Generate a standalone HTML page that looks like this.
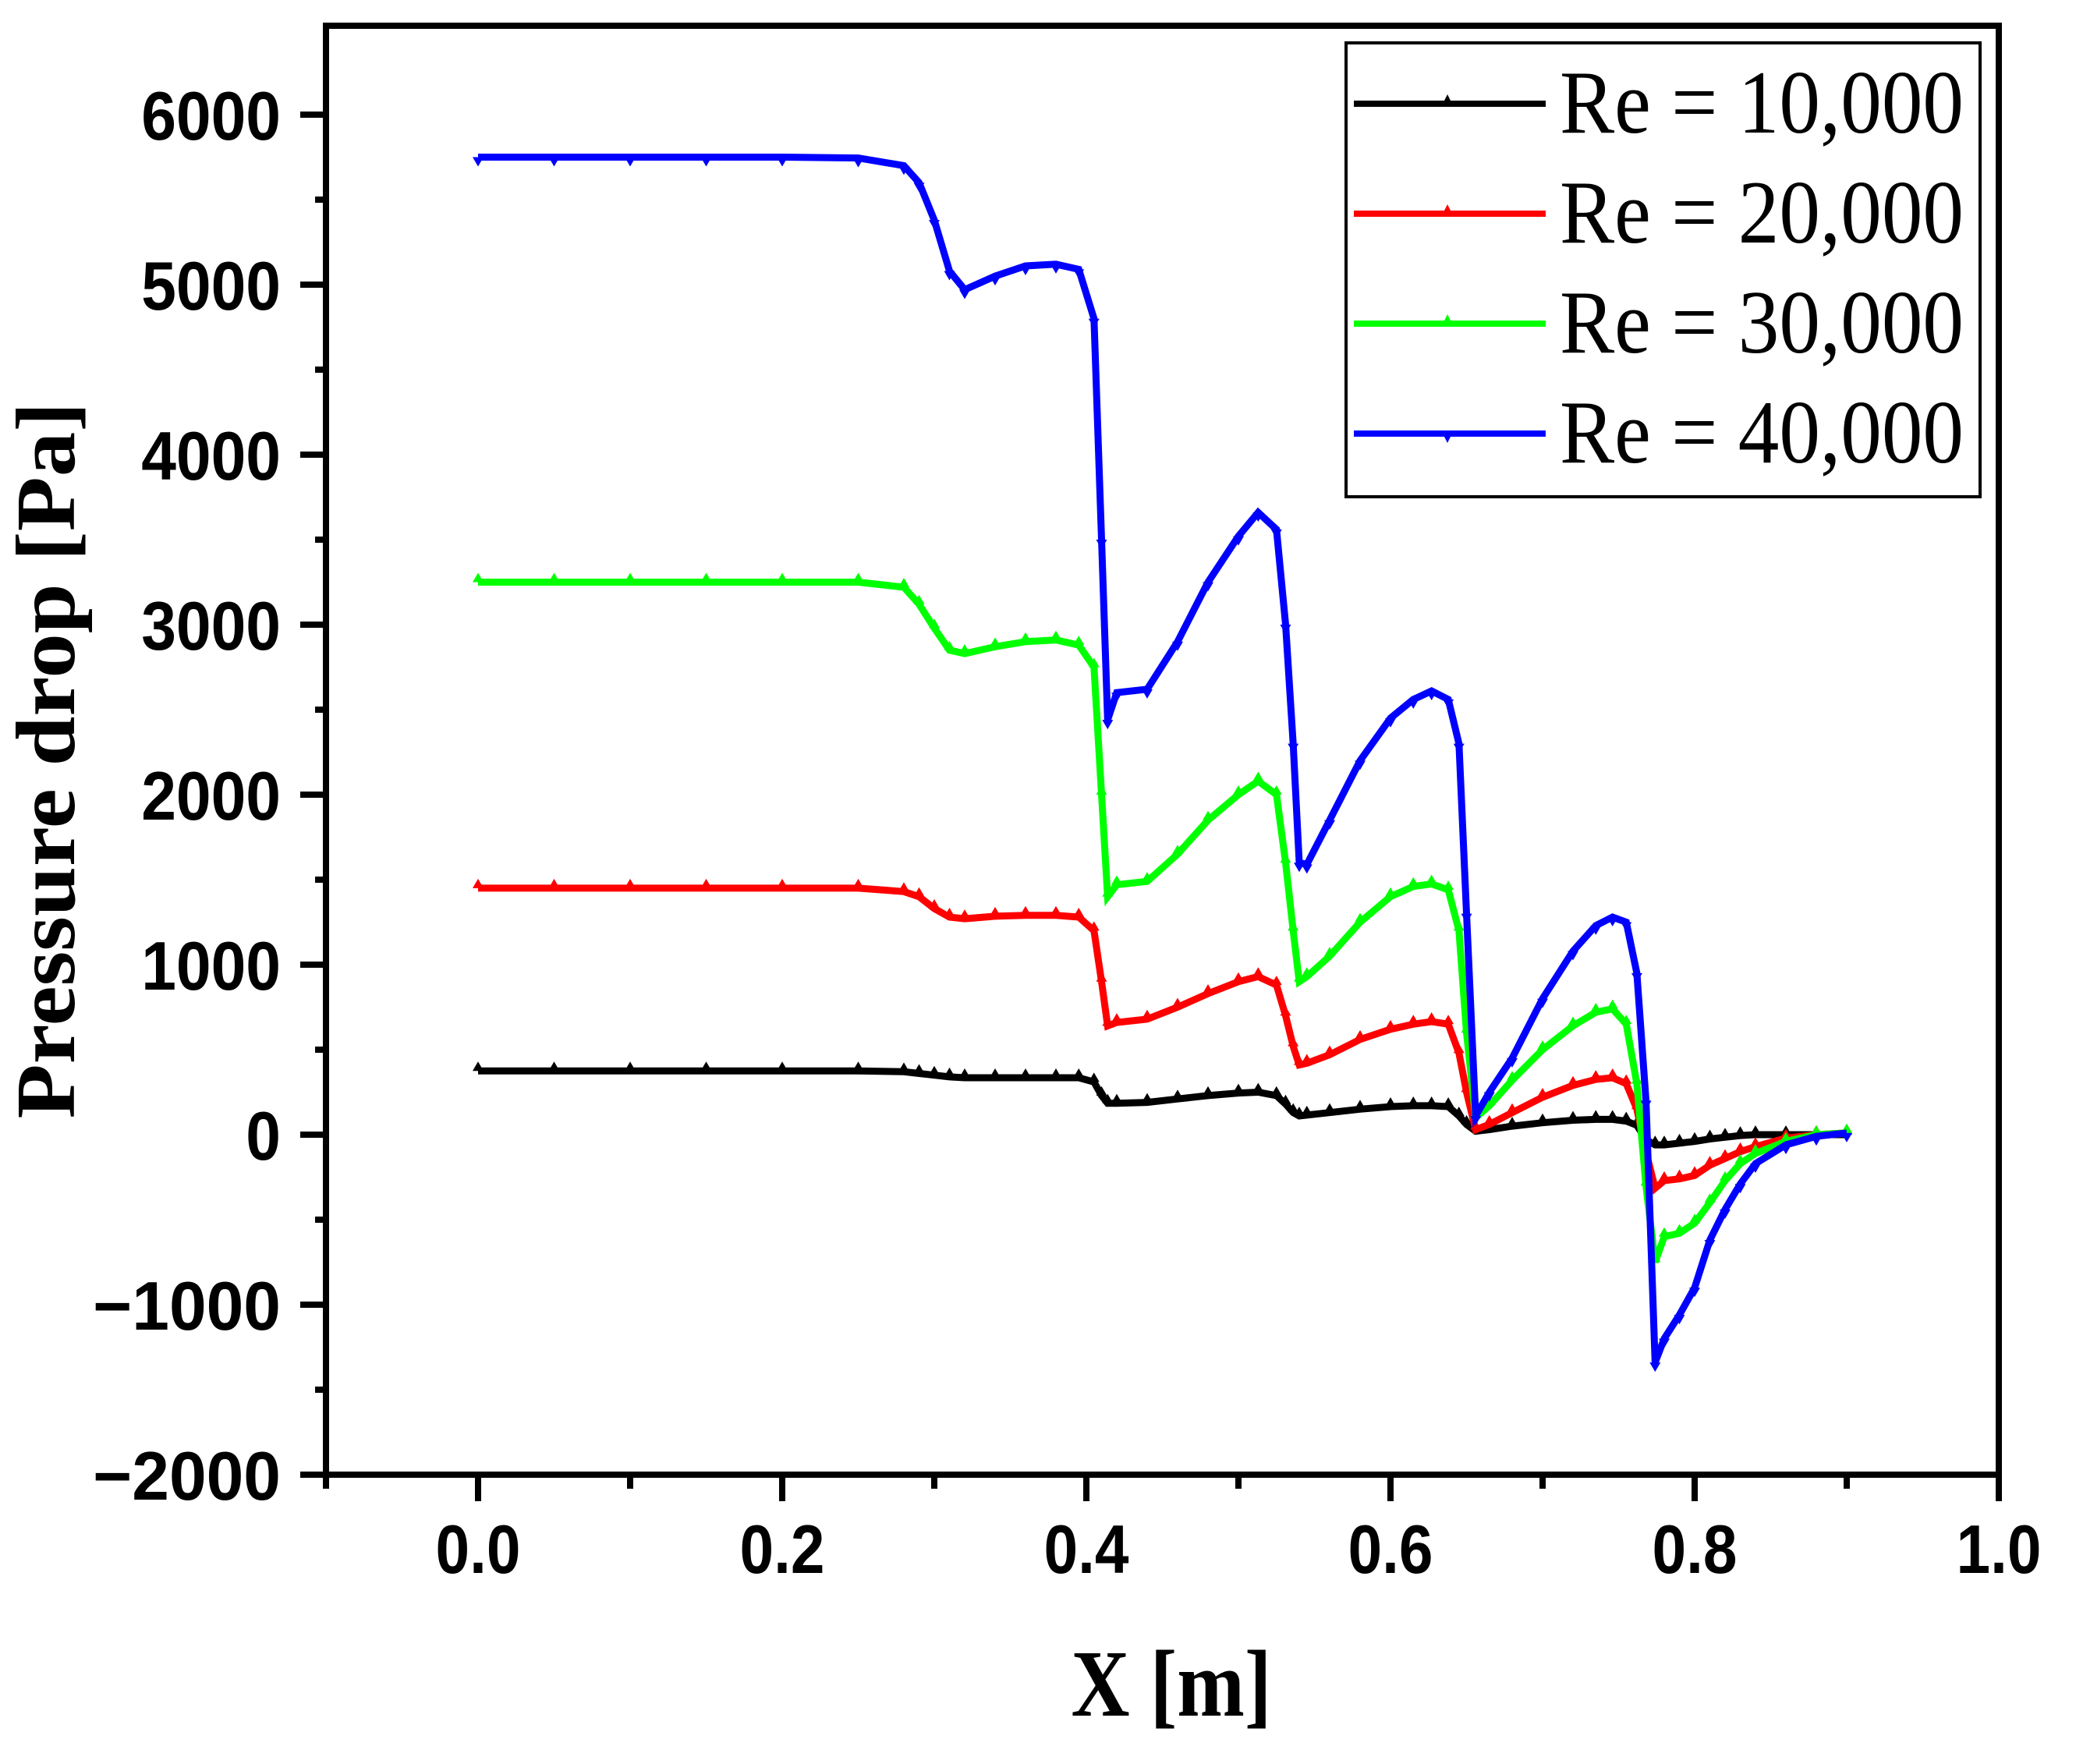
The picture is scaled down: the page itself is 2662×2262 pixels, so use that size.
<!DOCTYPE html>
<html><head><meta charset="utf-8">
<style>
html,body{margin:0;padding:0;background:#fff;}
svg{display:block;}
</style></head>
<body>
<svg id="chart" xmlns="http://www.w3.org/2000/svg" width="2662" height="2262" viewBox="0 0 2662 2262">
<rect x="0" y="0" width="2662" height="2262" fill="#fff"/>
<g id="series-layer"></g>
<g id="axes-layer"></g>
<g id="legend-layer"></g>
</svg>
<script>
const xValues = [0,0.05,0.1,0.15,0.2,0.25,0.28,0.29,0.30,0.31,0.32,0.34,0.36,0.38,0.395,0.405,0.41,0.414,0.42,0.44,0.46,0.48,0.50,0.513,0.525,0.531,0.536,0.540,0.545,0.56,0.58,0.60,0.615,0.627,0.638,0.645,0.650,0.656,0.665,0.68,0.70,0.72,0.735,0.746,0.755,0.762,0.768,0.774,0.78,0.79,0.80,0.81,0.82,0.83,0.84,0.86,0.88,0.90];
const re10000 = [375,375,375,375,375,375,370,360,350,340,335,335,335,335,335,310,230,185,185,190,210,230,245,250,230,180,130,110,115,130,150,165,170,170,165,110,60,20,30,50,70,85,90,90,80,55,-30,-60,-60,-50,-40,-25,-15,-5,0,0,0,0];
const re20000 = [1450,1450,1450,1450,1450,1450,1430,1400,1330,1280,1270,1285,1290,1290,1280,1200,900,640,660,680,750,830,900,930,880,700,520,410,420,470,560,620,650,665,650,480,250,30,60,130,220,290,325,335,300,150,-100,-315,-270,-260,-240,-180,-140,-100,-70,-20,0,10];
const re30000 = [3250,3250,3250,3250,3250,3250,3220,3120,2980,2850,2830,2870,2900,2910,2880,2750,2000,1400,1470,1490,1650,1850,2000,2080,2000,1600,1200,900,930,1050,1250,1400,1460,1475,1440,1200,600,100,170,320,500,640,720,740,650,300,-300,-750,-600,-580,-520,-400,-270,-170,-110,-40,0,10];
const re40000 = [5750,5750,5750,5750,5750,5745,5700,5600,5380,5080,4970,5050,5110,5120,5090,4800,3500,2440,2600,2620,2900,3250,3520,3660,3560,3000,2300,1600,1590,1850,2200,2450,2560,2610,2560,2300,1300,110,250,450,800,1080,1230,1280,1250,950,200,-1340,-1200,-1060,-900,-620,-440,-290,-170,-60,-10,10];
const seriesNames = ["Re = 10,000","Re = 20,000","Re = 30,000","Re = 40,000"];
const seriesColors = ["#000000","#ff0000","#00ff00","#0000ff"];
const yTickValues = [-2000,-1000,0,1000,2000,3000,4000,5000,6000];
const yTickLabels = ["\u22122000","\u22121000","0","1000","2000","3000","4000","5000","6000"];
const xTickValues = [0.0,0.2,0.4,0.6,0.8,1.0];
const xTickLabels = ["0.0","0.2","0.4","0.6","0.8","1.0"];

const NS = "http://www.w3.org/2000/svg";
const L = 418, R = 2563, T = 33, B = 1891;
function sx(v){ return 613 + v * 1950; }
function sy(v){ return 1455 - v * 0.218; }
function mk(tag, attrs, parent){
  const e = document.createElementNS(NS, tag);
  for (const k in attrs) e.setAttribute(k, attrs[k]);
  parent.appendChild(e);
  return e;
}
const sLayer = document.getElementById('series-layer');
const aLayer = document.getElementById('axes-layer');
const lLayer = document.getElementById('legend-layer');
const allSeries = [re10000, re20000, re30000, re40000];
const seriesKeys = ["re-10000","re-20000","re-30000","re-40000"];

allSeries.forEach((vals, si) => {
  const g = mk('g', {}, sLayer);
  
  
  const pts = xValues.map((x, i) => sx(x).toFixed(1) + ',' + sy(vals[i]).toFixed(1)).join(' ');
  const line = mk('polyline', {points: pts, fill: 'none', stroke: seriesColors[si], 'stroke-width': 9, 'stroke-linejoin': 'miter'}, g);
  
  
  xValues.forEach((x, i) => {
    const px = sx(x), py = sy(vals[i]);
    const d = si === 3 ? `M${px-7},${py} L${px+7},${py} L${px},${py+12} Z` : `M${px-7},${py} L${px+7},${py} L${px},${py-12} Z`;
    const m = mk('path', {d: d, fill: seriesColors[si]}, g);
    
    
  });
});

const frame = mk('path', {d: `M${L},${B} L${L},${T} L${R},${T} L${R},${B} Z`, fill: 'none', stroke: '#000', 'stroke-width': 8}, aLayer);



for (let v = -2000; v <= 6000; v += 500) {
  const major = v % 1000 === 0;
  const t = mk('line', {x1: major ? 385 : 404, x2: L, y1: sy(v), y2: sy(v), stroke: '#000', 'stroke-width': 8}, aLayer);
  
  
}
yTickValues.forEach((v, i) => {
  const lab = yTickLabels[i];
  const neg = lab.charAt(0) === '\u2212';
  const digits = neg ? lab.length - 1 : lab.length;
  const w = digits * 44.7 + (neg ? 62 : 0);
  const t = mk('text', {x: 360, y: sy(v) + 32, 'text-anchor': 'end', 'font-family': '"Liberation Sans", Arial, sans-serif', 'font-weight': 'bold', 'font-size': 88, textLength: w, lengthAdjust: 'spacingAndGlyphs'}, aLayer);
  t.textContent = lab;
  
  
});

for (let k = -1; k <= 10; k++) {
  const v = k / 10;
  const major = k % 2 === 0;
  const t = mk('line', {x1: sx(v), x2: sx(v), y1: B, y2: B + (major ? 34 : 18), stroke: '#000', 'stroke-width': 8}, aLayer);
  
  
}
xTickValues.forEach((v, i) => {
  const t = mk('text', {x: sx(v), y: 2017, 'text-anchor': 'middle', 'font-family': '"Liberation Sans", Arial, sans-serif', 'font-weight': 'bold', 'font-size': 88, textLength: 109, lengthAdjust: 'spacingAndGlyphs'}, aLayer);
  t.textContent = xTickLabels[i];
  
  
});

const xt = mk('text', {x: 1502, y: 2200, 'text-anchor': 'middle', 'font-family': '"Liberation Serif", "Times New Roman", serif', 'font-weight': 'bold', 'font-size': 122, textLength: 257, lengthAdjust: 'spacingAndGlyphs'}, aLayer);
xt.textContent = 'X [m]';


const yt = mk('text', {x: 0, y: 0, transform: 'translate(95,975) rotate(-90)', 'text-anchor': 'middle', 'font-family': '"Liberation Serif", "Times New Roman", serif', 'font-weight': 'bold', 'font-size': 108, textLength: 919, lengthAdjust: 'spacingAndGlyphs'}, aLayer);
yt.textContent = 'Pressure drop [Pa]';



const lb = mk('rect', {x: 1726, y: 55, width: 813, height: 582, fill: '#fff', stroke: '#000', 'stroke-width': 4}, lLayer);


seriesNames.forEach((name, i) => {
  const y = 133 + i * 141;
  const g = mk('g', {}, lLayer);
  
  
  const ln = mk('line', {x1: 1736, x2: 1982, y1: y, y2: y, stroke: seriesColors[i], 'stroke-width': 8}, g);
  
  
  const mkd = i === 3 ? `M1850,${y} L1862,${y} L1856,${y+12} Z` : `M1850,${y} L1862,${y} L1856,${y-12} Z`;
  const m = mk('path', {d: mkd, fill: seriesColors[i]}, g);
  
  
  const tx = mk('text', {x: 2000, y: y + 37, 'font-family': '"Liberation Serif", "Times New Roman", serif', 'font-size': 115, textLength: 518, lengthAdjust: 'spacingAndGlyphs'}, g);
  tx.textContent = name;
  
  
});
</script>
</body></html>
